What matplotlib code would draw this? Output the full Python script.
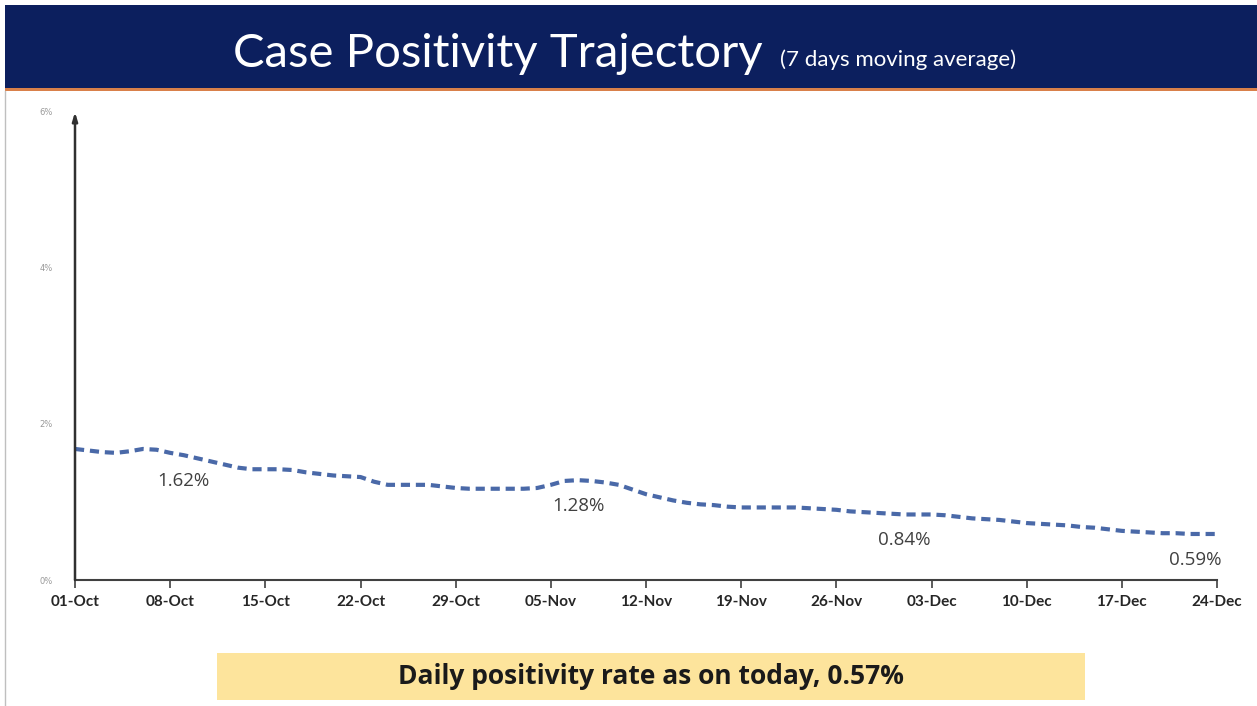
import numpy as np
import pandas as pd
from matplotlib import pyplot as plt
from matplotlib.patches import Rectangle

# 7-day moving average of case positivity (%), 01-Oct to 24-Dec
dates = pd.date_range("2020-10-01", "2020-12-24", freq="D")
positivity = [
    1.68, 1.66, 1.64, 1.63, 1.65, 1.68, 1.67, 1.63, 1.60, 1.56,
    1.52, 1.48, 1.44, 1.42, 1.42, 1.42, 1.41, 1.38, 1.36, 1.34,
    1.33, 1.32, 1.26, 1.22, 1.22, 1.22, 1.22, 1.20, 1.18, 1.17,
    1.17, 1.17, 1.17, 1.17, 1.18, 1.22, 1.27, 1.28, 1.27, 1.25,
    1.22, 1.16, 1.10, 1.06, 1.02, 0.99, 0.97, 0.96, 0.94, 0.93,
    0.93, 0.93, 0.93, 0.93, 0.92, 0.91, 0.90, 0.88, 0.87, 0.86,
    0.85, 0.84, 0.84, 0.84, 0.83, 0.81, 0.79, 0.78, 0.77, 0.75,
    0.73, 0.72, 0.71, 0.70, 0.68, 0.67, 0.65, 0.63, 0.62, 0.61,
    0.60, 0.60, 0.59, 0.59, 0.59,
]
label_days = [8, 37, 61, 84]
label_texts = ["1.62%", "1.28%", "0.84%", "0.59%"]
label_dx = [0, 0, 0, -22]
yticks = [0, 2, 4, 6]
ytick_labels = ["0%", "2%", "4%", "6%"]
tick_dates = pd.date_range("2020-10-01", "2020-12-24", freq="7D")

fig = plt.figure(figsize=(12.57, 7.06), dpi=100)
W, H = 1257, 706

# Title banner
fig.patches.append(Rectangle((5 / W, 1 - 88 / H), 1, 83 / H, transform=fig.transFigure,
                             facecolor="#0c1f5e", edgecolor="none", zorder=0))
fig.patches.append(Rectangle((5 / W, 1 - 91 / H), 1, 3 / H, transform=fig.transFigure,
                             facecolor="#d9804a", edgecolor="none", zorder=0))
# thin frame line on the left
fig.add_artist(plt.Line2D([5 / W, 5 / W], [0, 1 - 91 / H], color="#bfbfbf", lw=1))

fig.text(233 / W, 1 - 67 / H, "Case Positivity Trajectory", color="white",
         fontsize=34, family="Lato", va="baseline", ha="left")
fig.text(780 / W, 1 - 66 / H, "(7 days moving average)", color="white",
         fontsize=16, family="Lato", va="baseline", ha="left")

ax = fig.add_axes([75 / W, 1 - 580 / H, 1142 / W, 468 / H])
ax.plot(dates, positivity, color="#4a69a8", lw=3, dashes=(2.2, 1.4),
        dash_capstyle="butt", zorder=3)

for d, t, dx in zip(label_days, label_texts, label_dx):
    ax.annotate(t, (dates[d], positivity[d]), xytext=(dx, -26),
                textcoords="offset pixels", ha="center", va="center",
                fontsize=13.5, color="#404040", family="Open Sans")

ax.set_xlim(dates[0], dates[-1])
ax.set_ylim(0, 6)
ax.set_yticks(yticks)
ax.set_yticklabels(ytick_labels, fontsize=6, color="#999999")
ax.tick_params(axis="y", length=0, pad=16)
ax.set_xticks(tick_dates)
ax.set_xticklabels([d.strftime("%d-%b") for d in tick_dates], fontsize=11,
                   fontweight="bold", color="#262626", family="Lato")
ax.tick_params(axis="x", length=6, width=1.2, color="#404040", pad=5, direction="out")

for s in ["top", "right", "left"]:
    ax.spines[s].set_visible(False)
ax.spines["bottom"].set_color("#404040")
ax.spines["bottom"].set_linewidth(1.5)
ax.annotate("", xy=(0, 1.0), xytext=(0, 0), xycoords="axes fraction",
            arrowprops=dict(arrowstyle="-|>,head_length=0.5,head_width=0.15",
                            color="#303030", lw=1.8, shrinkA=0, shrinkB=0))

# Bottom callout box
fig.patches.append(Rectangle((217 / W, 1 - 700 / H), 868 / W, 47 / H,
                             transform=fig.transFigure, facecolor="#fde49c",
                             edgecolor="none", zorder=0))
fig.text(651 / W, 1 - 677 / H, "Daily positivity rate as on today, 0.57%",
         ha="center", va="center", fontsize=19, fontweight="bold",
         color="#1a1a1a", family="Open Sans")

fig.savefig("out.png", dpi=100)
